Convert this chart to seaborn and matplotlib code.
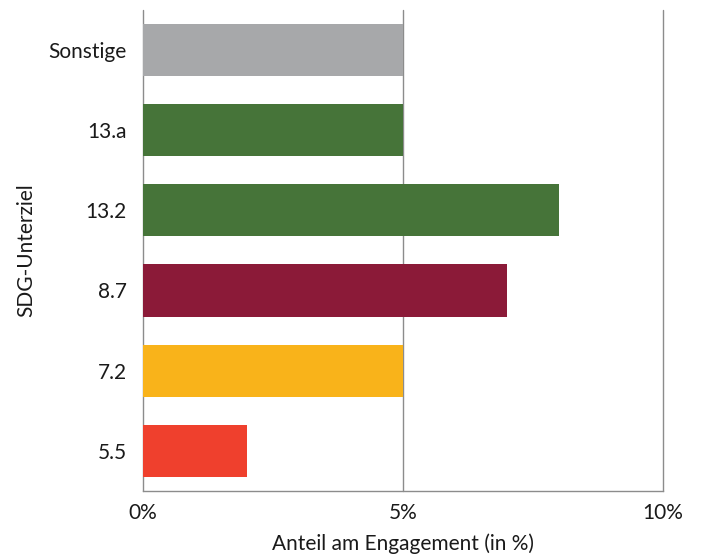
import pandas as pd
import seaborn as sns
import matplotlib.pyplot as plt

# SDG sub-targets, top to bottom
categories = ["Sonstige", "13.a", "13.2", "8.7", "7.2", "5.5"]
shares = [5, 5, 8, 7, 5, 2]
colors = ["#A7A8AA", "#467439", "#467439", "#8B1A38", "#F9B31A", "#EF402D"]
tick_values = [0, 5, 10]
tick_labels = ["0%", "5%", "10%"]

data = pd.DataFrame({"category": categories, "share": shares})

sns.set_style("white")
plt.rcParams["font.family"] = ["Lato", "DejaVu Sans"]

fig = plt.figure(figsize=(7.02, 5.59), dpi=100)
ax = fig.add_axes([0.204, 0.122, 0.74, 0.86])

sns.barplot(
    data=data,
    x="share",
    y="category",
    hue="category",
    palette=colors,
    order=categories,
    orient="h",
    width=0.65,
    saturation=1,
    linewidth=0,
    legend=False,
    ax=ax,
    zorder=3,
)

ax.set_xlim(0, 10)
ax.set_xticks(tick_values)
ax.set_xticklabels(tick_labels)
for v in tick_values:
    ax.axvline(v, color="#8C8C8C", lw=1.0, zorder=1, clip_on=False)

for s in ["top", "right", "left"]:
    ax.spines[s].set_visible(False)
ax.spines["bottom"].set_color("#8C8C8C")
ax.spines["bottom"].set_linewidth(1.0)
ax.tick_params(axis="both", length=0, labelsize=15, colors="#1a1a1a")
ax.tick_params(axis="x", pad=9)
ax.tick_params(axis="y", pad=12)

ax.set_xlabel("Anteil am Engagement (in %)", fontsize=15, labelpad=7, color="#1a1a1a")
ax.set_ylabel("SDG-Unterziel", fontsize=15, labelpad=9, color="#1a1a1a")

plt.savefig("out.png", dpi=100)
